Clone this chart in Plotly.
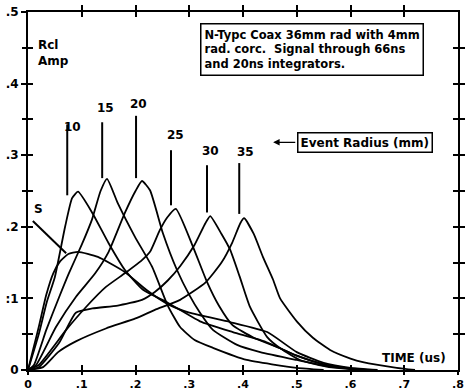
import plotly.graph_objects as go

# ---- data ----
t5 = [0, 0.01, 0.02, 0.034, 0.047, 0.06, 0.075, 0.093, 0.13, 0.18, 0.22, 0.26, 0.3, 0.376, 0.445, 0.5, 0.55, 0.6, 0.65]
a5 = [0, 0.03, 0.06, 0.105, 0.135, 0.152, 0.162, 0.165, 0.158, 0.137, 0.112, 0.092, 0.08, 0.067, 0.053, 0.025, 0.01, 0.003, 0]

t10 = [0, 0.02, 0.035, 0.05, 0.069, 0.082, 0.093, 0.12, 0.15, 0.18, 0.214, 0.26, 0.32, 0.381, 0.44, 0.5, 0.55, 0.6]
a10 = [0, 0.05, 0.095, 0.13, 0.2, 0.24, 0.249, 0.219, 0.177, 0.14, 0.112, 0.094, 0.068, 0.053, 0.04, 0.02, 0.008, 0.002]

t15 = [0, 0.011, 0.034, 0.058, 0.076, 0.1, 0.119, 0.135, 0.147, 0.167, 0.199, 0.231, 0.26, 0.283, 0.31, 0.344, 0.407, 0.5, 0.55]
a15 = [0, 0.007, 0.056, 0.102, 0.135, 0.175, 0.21, 0.25, 0.267, 0.233, 0.186, 0.144, 0.09, 0.06, 0.042, 0.031, 0.014, 0.003, 0]

t20 = [0, 0.015, 0.052, 0.089, 0.125, 0.15, 0.18, 0.2, 0.212, 0.227, 0.251, 0.277, 0.3, 0.32, 0.344, 0.389, 0.432, 0.5, 0.56, 0.62]
a20 = [0, 0.007, 0.06, 0.102, 0.135, 0.165, 0.219, 0.25, 0.264, 0.251, 0.191, 0.14, 0.105, 0.08, 0.056, 0.035, 0.025, 0.014, 0.005, 0.001]

t25 = [0, 0.02, 0.071, 0.108, 0.145, 0.18, 0.21, 0.227, 0.245, 0.259, 0.275, 0.307, 0.333, 0.355, 0.38, 0.42, 0.47, 0.5, 0.55, 0.6, 0.65]
a25 = [0, 0.007, 0.056, 0.088, 0.116, 0.135, 0.152, 0.165, 0.195, 0.213, 0.225, 0.172, 0.123, 0.09, 0.063, 0.045, 0.03, 0.02, 0.008, 0.002, 0]

t30 = [0, 0.02, 0.058, 0.089, 0.12, 0.167, 0.212, 0.236, 0.26, 0.283, 0.31, 0.33, 0.339, 0.36, 0.376, 0.394, 0.413, 0.445, 0.47, 0.506, 0.56, 0.62]
a30 = [0, 0.004, 0.038, 0.08, 0.086, 0.09, 0.098, 0.109, 0.125, 0.145, 0.175, 0.205, 0.215, 0.19, 0.168, 0.13, 0.088, 0.046, 0.03, 0.014, 0.004, 0]

t35 = [0, 0.028, 0.056, 0.089, 0.145, 0.2, 0.236, 0.283, 0.33, 0.36, 0.38, 0.395, 0.402, 0.42, 0.437, 0.456, 0.469, 0.5, 0.53, 0.562, 0.6, 0.623, 0.686, 0.72]
a35 = [0, 0.004, 0.025, 0.04, 0.058, 0.072, 0.084, 0.098, 0.122, 0.15, 0.178, 0.205, 0.212, 0.19, 0.158, 0.126, 0.1, 0.068, 0.045, 0.028, 0.016, 0.011, 0.003, 0]

radius_labels = ["S", "10", "15", "20", "25", "30", "35"]
x_ticks = [0, 0.1, 0.2, 0.3, 0.4, 0.5, 0.6, 0.7, 0.8]
x_tick_text = ["0", ".1", ".2", ".3", ".4", ".5", ".6", ".7", ".8"]
y_ticks = [0, 0.1, 0.2, 0.3, 0.4, 0.5]
y_tick_text = ["0", ":1", ".2", ".3", ".4", ".5"]
y_ticks_fine = [0.05, 0.1, 0.15, 0.2, 0.25, 0.3, 0.35, 0.4, 0.45]

series = [(t5, a5), (t10, a10), (t15, a15), (t20, a20), (t25, a25), (t30, a30), (t35, a35)]

# label placement (layout)
label_pos = [(0.019, 0.225), (0.082, 0.34), (0.145, 0.366), (0.205, 0.372),
             (0.274, 0.328), (0.339, 0.306), (0.405, 0.304)]
leaders = [((0.009, 0.208), (0.071, 0.163)),
           ((0.073, 0.343), (0.073, 0.244)),
           ((0.138, 0.346), (0.138, 0.268)),
           ((0.201, 0.355), (0.201, 0.268)),
           ((0.266, 0.307), (0.266, 0.23)),
           ((0.333, 0.286), (0.333, 0.22)),
           ((0.393, 0.289), (0.393, 0.218))]

FONT = "DejaVu Sans"
fig = go.Figure()
for (t, a), name in zip(series, radius_labels):
    fig.add_trace(go.Scatter(x=t, y=a, mode="lines", name=name,
                             line=dict(color="black", width=1.8, shape="spline", smoothing=0.5),
                             hoverinfo="skip", showlegend=False))

for (p0, p1) in leaders:
    fig.add_shape(type="line", x0=p0[0], y0=p0[1], x1=p1[0], y1=p1[1],
                  xref="x", yref="y", line=dict(color="black", width=2))

for name, (lx, ly) in zip(radius_labels, label_pos):
    fig.add_annotation(x=lx, y=ly, text=name, showarrow=False, xref="x", yref="y",
                       font=dict(family=FONT, size=12, color="black", weight="bold"))

# invisible traces to bind the extra tick axes
for xa, ya in [("x2", "y2"), ("x3", "y3"), ("x4", "y4")]:
    fig.add_trace(go.Scatter(x=[0], y=[0], xaxis=xa, yaxis=ya, mode="markers",
                             marker=dict(opacity=0), hoverinfo="skip", showlegend=False))

fig.add_annotation(x=0.015, y=0.466, xref="x", yref="y", text="Rcl<br>Amp", showarrow=False,
                   xanchor="left", yanchor="top", align="left",
                   font=dict(family=FONT, size=12, color="black", weight="bold"))

fig.add_annotation(x=0.32, y=0.484, xref="x", yref="y", xanchor="left", yanchor="top",
                   text="N-Typc Coax 36mm rad with 4mm<br>rad. corc.  Signal through 66ns<br>and 20ns integrators.",
                   showarrow=False, align="left", bordercolor="black", borderwidth=1.5,
                   borderpad=3, bgcolor="white",
                   font=dict(family=FONT, size=11.5, color="black", weight="bold"))

fig.add_annotation(x=0.627, y=0.318, xref="x", yref="y", text="Event Radius (mm)",
                   showarrow=False, bordercolor="black", borderwidth=1.5, borderpad=2,
                   bgcolor="white", font=dict(family=FONT, size=12, color="black", weight="bold"))
fig.add_annotation(x=0.456, y=0.318, ax=0.5, ay=0.318, xref="x", yref="y", axref="x", ayref="y",
                   text="", showarrow=True, arrowhead=2, arrowsize=1, arrowwidth=1.3, arrowcolor="black")

fig.add_annotation(x=0.718, y=0.017, xref="x", yref="y", text="TIME (us)", showarrow=False,
                   font=dict(family=FONT, size=12, color="black", weight="bold"))

base = dict(showgrid=False, zeroline=False, showline=True, linecolor="black", linewidth=2,
            tickcolor="black", tickwidth=2, ticklen=5, automargin=False)
tickfont = dict(family=FONT, size=12, color="black", weight="bold")
blank = dict(showticklabels=False, **base)

fig.update_layout(
    width=467, height=391,
    margin=dict(l=28, r=9, t=12, b=21),
    paper_bgcolor="white", plot_bgcolor="white",
    xaxis=dict(range=[0, 0.8], tickvals=x_ticks, ticktext=x_tick_text, ticks="outside",
               tickfont=dict(family=FONT, size=11, color="black", weight="bold"),
               **{**base, "ticklen": 3}),
    yaxis=dict(range=[0, 0.5], tickvals=y_ticks, ticktext=y_tick_text, ticks="outside",
               tickfont=tickfont,
               minor=dict(tickvals=y_ticks_fine, ticks="outside", ticklen=4, tickwidth=2, tickcolor="black"),
               **base),
    xaxis2=dict(range=[0, 0.8], overlaying="x", anchor="y2", side="bottom", tickvals=x_ticks,
                ticks="inside", **blank),
    yaxis2=dict(range=[0, 0.5], overlaying="y", anchor="x2", side="left", tickvals=y_ticks_fine,
                ticks="inside", **blank),
    xaxis3=dict(range=[0, 0.8], overlaying="x", anchor="y3", side="top", tickvals=x_ticks[1:-1],
                ticks="outside", **blank),
    yaxis3=dict(range=[0, 0.5], overlaying="y", anchor="x3", side="right", tickvals=y_ticks_fine,
                ticks="outside", **blank),
    xaxis4=dict(range=[0, 0.8], overlaying="x", anchor="y4", side="top", tickvals=x_ticks[1:-1],
                ticks="inside", **blank),
    yaxis4=dict(range=[0, 0.5], overlaying="y", anchor="x4", side="right", tickvals=y_ticks_fine,
                ticks="inside", **blank),
)

fig.write_html("out.html", config={"displayModeBar": False},
               post_script="document.body.style.margin='0';document.body.style.padding='0';")
